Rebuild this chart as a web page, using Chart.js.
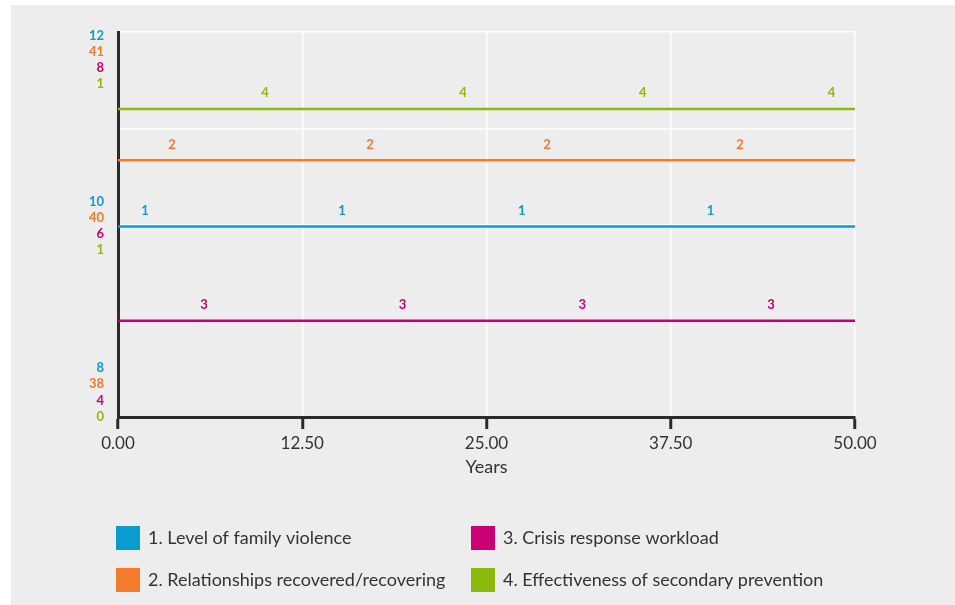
<!DOCTYPE html>
<html>
<head>
<meta charset="utf-8">
<script src="https://cdn.jsdelivr.net/npm/chart.js@4.4.1/dist/chart.umd.min.js"></script>
<style>
  html, body { margin: 0; padding: 0; background: #ffffff; }
  #wrap { width: 955px; height: 605px; position: relative; }
</style>
</head>
<body>
<div id="wrap"><canvas id="c" width="955" height="605"></canvas></div>
<script>
// ---- data ----
const years = [0, 50];
const xTicks = [0, 12.5, 25, 37.5, 50];

const seriesNames = [
  '1. Level of family violence',
  '2. Relationships recovered/recovering',
  '3. Crisis response workload',
  '4. Effectiveness of secondary prevention'
];
const seriesNumbers = ['1', '2', '3', '4'];

const violence = [9.98, 9.98];
const relationships = [40, 40];
const crisis = [5, 5];
const effectiveness = [0.8, 0.8];

const violenceRange = [8, 12];
const relationshipsRange = [38, 41];
const crisisRange = [4, 8];
const effectivenessRange = [0, 1];

// tick labels (top, middle, bottom) per series
const violenceTicks = ['12', '10', '8'];
const relationshipsTicks = ['41', '40', '38'];
const crisisTicks = ['8', '6', '4'];
const effectivenessTicks = ['1', '1', '0'];

// years at which the series number markers sit on each line
const violenceMarks = [1.83, 15.2, 27.4, 40.2];
const relationshipsMarks = [3.66, 17.1, 29.1, 42.2];
const crisisMarks = [5.83, 19.3, 31.5, 44.3];
const effectivenessMarks = [9.97, 23.4, 35.6, 48.4];

// ---- styling ----
const colors = ['#0a9cd0', '#f47a2c', '#cc0073', '#8cb90c'];
const FONT = 'Lato, "Open Sans", sans-serif';
const TEXT = '#333333';

const seriesValues = [violence, relationships, crisis, effectiveness];
const seriesRanges = [violenceRange, relationshipsRange, crisisRange, effectivenessRange];
const seriesTicks = [violenceTicks, relationshipsTicks, crisisTicks, effectivenessTicks];
const seriesMarks = [violenceMarks, relationshipsMarks, crisisMarks, effectivenessMarks];
const axisIds = ['y1', 'y2', 'y3', 'y4'];

const datasets = seriesValues.map((vals, i) => ({
  label: seriesNames[i],
  data: years.map((x, k) => ({ x: x, y: vals[k] })),
  borderColor: colors[i],
  backgroundColor: colors[i],
  borderWidth: 2.5,
  pointRadius: 0,
  fill: false,
  yAxisID: axisIds[i]
}));

const bgPlugin = {
  id: 'bg',
  beforeDraw(chart) {
    const ctx = chart.ctx;
    ctx.save();
    ctx.fillStyle = '#ffffff';
    ctx.fillRect(0, 0, chart.width, chart.height);
    ctx.fillStyle = '#ededed';
    ctx.fillRect(11, 5, chart.width - 11, chart.height - 5);
    ctx.restore();
  }
};

const decoPlugin = {
  id: 'deco',
  afterDatasetsDraw(chart) {
    const ctx = chart.ctx;
    const xs = chart.scales.x;
    ctx.save();
    // series number markers on each line
    ctx.font = 'bold 13px ' + FONT;
    ctx.textAlign = 'center';
    ctx.textBaseline = 'middle';
    seriesMarks.forEach((marks, i) => {
      const ys = chart.scales[axisIds[i]];
      ctx.fillStyle = colors[i];
      marks.forEach(m => {
        const px = xs.getPixelForValue(m);
        const py = ys.getPixelForValue(seriesValues[i][0]);
        ctx.fillText(seriesNumbers[i], px, py - 16);
      });
    });
    // stacked multi-scale axis labels
    ctx.font = 'bold 13px ' + FONT;
    ctx.textAlign = 'right';
    const labelX = 104;
    seriesTicks.forEach((ticks, i) => {
      const ys = chart.scales[axisIds[i]];
      const r = seriesRanges[i];
      const top = ys.getPixelForValue(r[1]);
      const mid = ys.getPixelForValue((r[0] + r[1]) / 2);
      const bot = ys.getPixelForValue(r[0]);
      ctx.fillStyle = colors[i];
      ctx.fillText(ticks[0], labelX, top + 4 + 16 * i);
      ctx.fillText(ticks[1], labelX, mid - 22.5 + 16 * i);
      ctx.fillText(ticks[2], labelX, bot - 49 + 16.3 * i);
    });
    ctx.restore();
  },
  afterDraw(chart) {
    // legend, 2 x 2 grid
    const ctx = chart.ctx;
    const order = [[0, 116, 526], [2, 471, 526], [1, 116, 568], [3, 471, 568]];
    ctx.save();
    ctx.font = '18px ' + FONT;
    ctx.textAlign = 'left';
    ctx.textBaseline = 'middle';
    order.forEach(([i, x, y]) => {
      ctx.fillStyle = colors[i];
      ctx.fillRect(x, y, 24, 24);
      ctx.fillStyle = TEXT;
      ctx.fillText(chart.data.datasets[i].label, x + 32, y + 12.5);
    });
    ctx.restore();
  }
};

const hiddenY = (r) => ({ type: 'linear', display: false, min: r[0], max: r[1] });

new Chart(document.getElementById('c'), {
  type: 'line',
  data: { datasets: datasets },
  options: {
    responsive: false,
    animation: false,
    events: [],
    layout: { padding: { left: 118, right: 100, top: 32, bottom: 127 } },
    plugins: { legend: { display: false }, tooltip: { enabled: false } },
    scales: {
      x: {
        type: 'linear',
        min: 0,
        max: 50,
        afterBuildTicks: (s) => { s.ticks = xTicks.map(v => ({ value: v })); },
        afterFit: (s) => { s.height = 61; },
        grid: {
          color: '#ffffff',
          lineWidth: 1.5,
          drawTicks: true,
          tickLength: 12,
          tickColor: '#2b2b2b',
          tickWidth: 3
        },
        border: { display: true, color: '#2b2b2b', width: 3 },
        ticks: {
          color: TEXT,
          font: { family: FONT, size: 17 },
          padding: 4,
          maxRotation: 0,
          autoSkip: false,
          callback: (v) => Number(v).toFixed(2)
        },
        title: {
          display: true,
          text: 'Years',
          color: TEXT,
          font: { family: FONT, size: 18 },
          padding: { top: 0, bottom: 0 }
        }
      },
      y1: {
        type: 'linear',
        position: 'left',
        min: violenceRange[0],
        max: violenceRange[1],
        afterFit: (s) => { s.width = 0; },
        ticks: { display: false, stepSize: 1 },
        grid: { color: '#ffffff', lineWidth: 1.5, drawTicks: false },
        border: { display: true, color: '#2b2b2b', width: 3 }
      },
      y2: hiddenY(relationshipsRange),
      y3: hiddenY(crisisRange),
      y4: hiddenY(effectivenessRange)
    }
  },
  plugins: [bgPlugin, decoPlugin]
});
</script>
</body>
</html>
